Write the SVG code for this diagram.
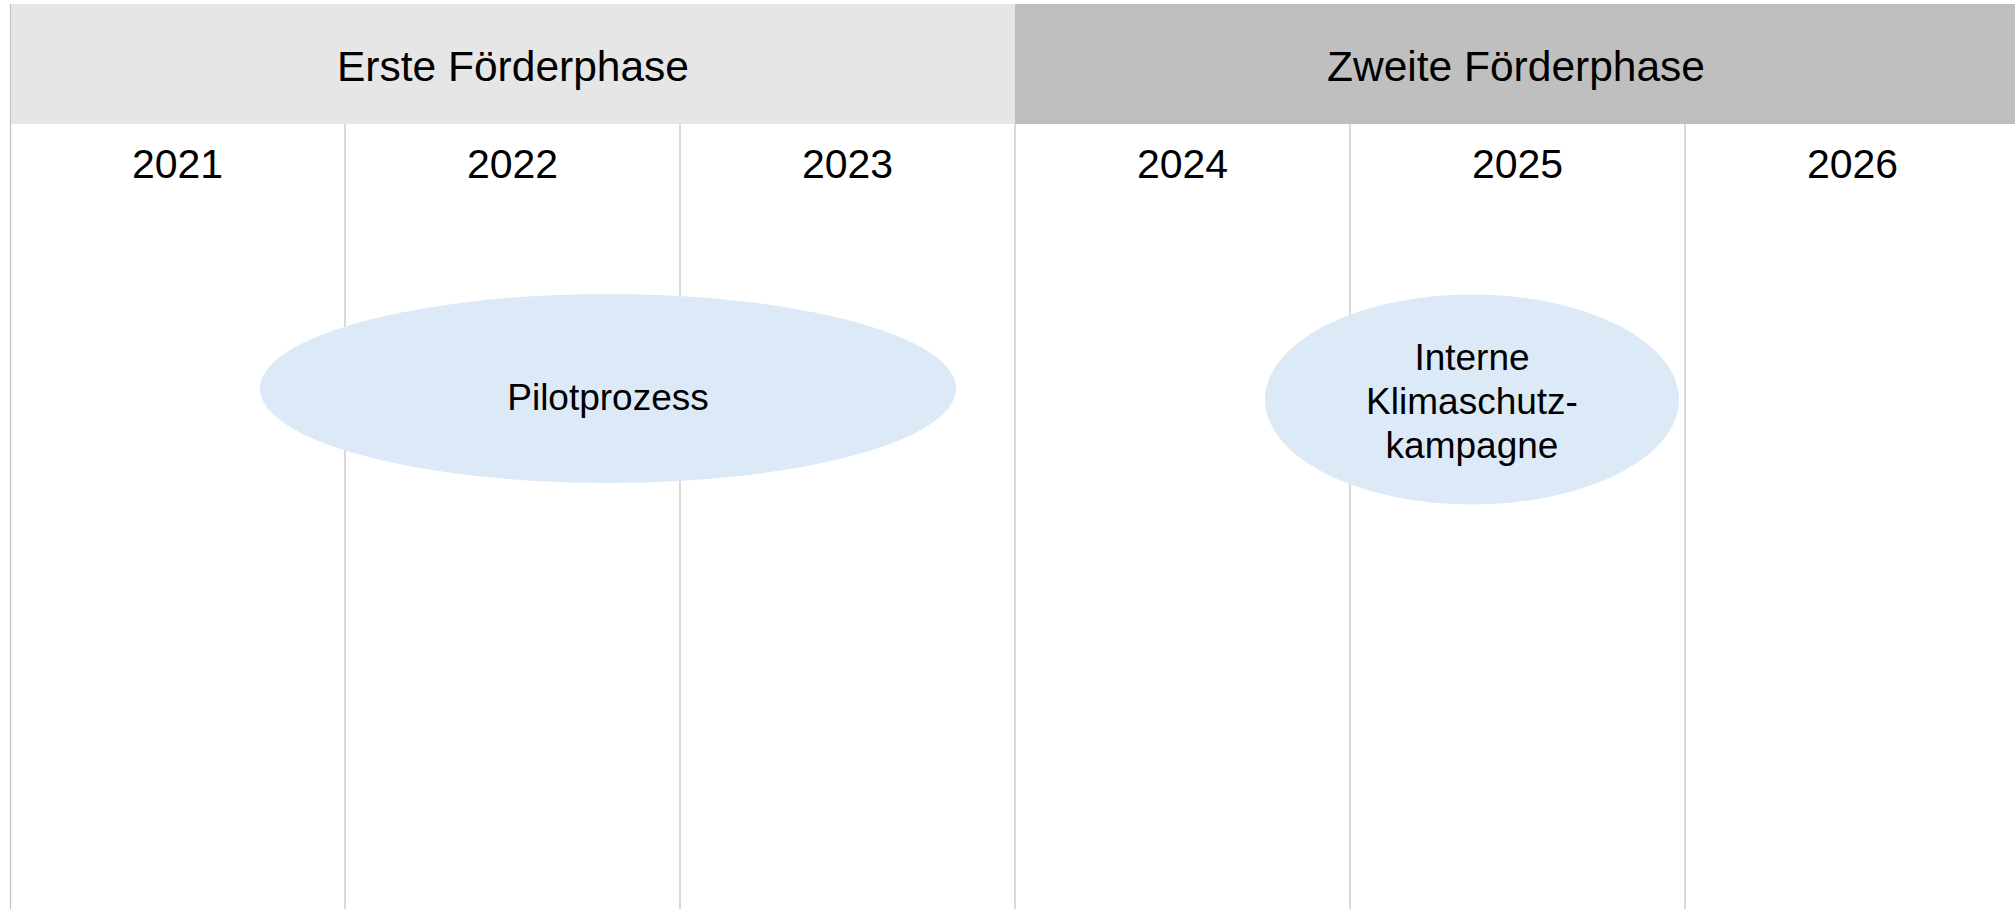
<svg xmlns="http://www.w3.org/2000/svg" width="2015" height="909" viewBox="0 0 2015 909">
  <style>
    .lbl { font-family: "Liberation Sans", Arial, sans-serif; fill: #000; text-anchor: middle; }
    .phase { font-size: 42.5px; }
    .year { font-size: 41px; }
    .node { font-size: 37px; }
    .grid { stroke: #c0c0c0; stroke-width: 1.2; fill: none; }
    .bubble { fill: #dce9f6; }
  </style>

  <rect x="0" y="0" width="2015" height="909" fill="#ffffff"/>

  <!-- funding phase header bands -->
  <g id="phase-1">
    <rect x="11" y="4" width="1004" height="120" fill="#e6e6e6"/>
    <text class="lbl phase" x="513" y="81">Erste Förderphase</text>
  </g>
  <g id="phase-2">
    <rect x="1015" y="4" width="1000" height="120" fill="#bfbfbf"/>
    <text class="lbl phase" x="1516" y="81">Zweite Förderphase</text>
  </g>

  <!-- year column separators -->
  <g id="grid">
    <line class="grid" x1="10.5" y1="4" x2="10.5" y2="909"/>
    <line class="grid" x1="345" y1="124" x2="345" y2="909"/>
    <line class="grid" x1="680" y1="124" x2="680" y2="909"/>
    <line class="grid" x1="1015" y1="124" x2="1015" y2="909"/>
    <line class="grid" x1="1350" y1="124" x2="1350" y2="909"/>
    <line class="grid" x1="1685" y1="124" x2="1685" y2="909"/>
  </g>

  <!-- year labels -->
  <g id="years">
    <text class="lbl year" x="177.5" y="178">2021</text>
    <text class="lbl year" x="512.5" y="178">2022</text>
    <text class="lbl year" x="847.5" y="178">2023</text>
    <text class="lbl year" x="1182.5" y="178">2024</text>
    <text class="lbl year" x="1517.5" y="178">2025</text>
    <text class="lbl year" x="1852.5" y="178">2026</text>
  </g>

  <g id="connectors"></g>

  <!-- activities -->
  <g id="pilotprozess">
    <ellipse class="bubble" cx="608" cy="388.5" rx="348" ry="94.5"/>
    <text class="lbl node" x="608" y="410">Pilotprozess</text>
  </g>
  <g id="klimaschutzkampagne">
    <ellipse class="bubble" cx="1472" cy="399.5" rx="207" ry="105"/>
    <text class="lbl node" x="1472" y="370">Interne</text>
    <text class="lbl node" x="1472" y="414">Klimaschutz-</text>
    <text class="lbl node" x="1472" y="458">kampagne</text>
  </g>
</svg>
